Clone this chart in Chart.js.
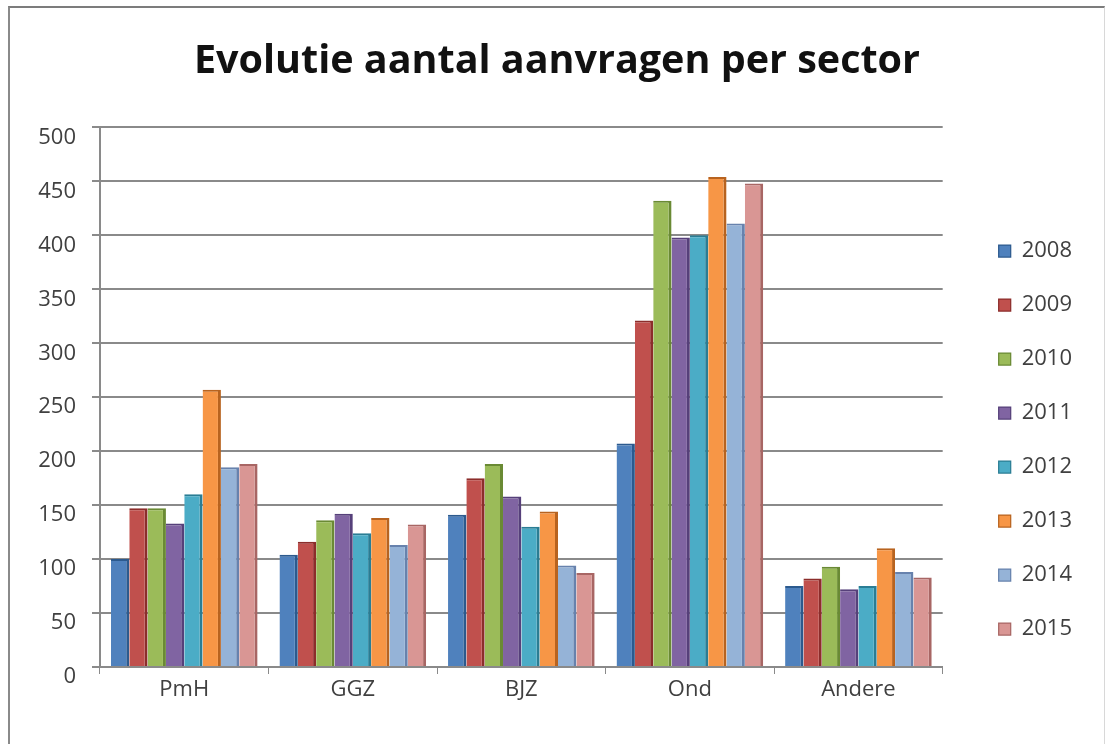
<!DOCTYPE html>
<html lang="nl">
<head>
<meta charset="UTF-8">
<title>Evolutie aantal aanvragen per sector</title>
<script src="https://cdn.jsdelivr.net/npm/chart.js"></script>
<style>
  html, body { margin: 0; padding: 0; background: #fff; }
  .frame {
    position: absolute; left: 8px; top: 6px; width: 1094px; height: 745px;
    border-top: 2px solid #7c7c7c; border-left: 2px solid #8a8a8a; border-right: 1px solid #d8d8d8;
  }
  .wrap { position: absolute; left: 0; top: 0; width: 1106px; height: 744px; }
</style>
</head>
<body>
<div class="frame"></div>
<div class="wrap"><canvas id="chart" width="1106" height="744"></canvas></div>
<script>
// data
var sectoren = ['PmH', 'GGZ', 'BJZ', 'Ond', 'Andere'];
var jaren = ['2008', '2009', '2010', '2011', '2012', '2013', '2014', '2015'];
var v2008 = [100, 104, 141, 207, 75];
var v2009 = [147, 116, 175, 321, 82];
var v2010 = [147, 136, 188, 432, 93];
var v2011 = [133, 142, 158, 398, 72];
var v2012 = [160, 124, 130, 400, 75];
var v2013 = [257, 138, 144, 454, 110];
var v2014 = [185, 113, 94, 411, 88];
var v2015 = [188, 132, 87, 448, 83];
var reeksen = [v2008, v2009, v2010, v2011, v2012, v2013, v2014, v2015];

var kleuren = ['#4f81bd', '#c0504d', '#9bbb59', '#8064a2', '#4bacc6', '#f79646', '#95b3d7', '#d99694'];
var randen = ['#2c5a8e', '#8c2d2b', '#6a8a34', '#56407a', '#2a7d94', '#b8631f', '#6782ad', '#a86664'];

var datasets = jaren.map(function (jaar, i) {
  return {
    label: jaar,
    data: reeksen[i],
    backgroundColor: kleuren[i],
    borderColor: randen[i],
    borderWidth: { top: 2, right: 3, left: 0, bottom: 0 },
    borderSkipped: false
  };
});

var labelFont = { family: "'Open Sans', sans-serif", size: 22 };

new Chart(document.getElementById('chart'), {
  type: 'bar',
  data: { labels: sectoren, datasets: datasets },
  options: {
    responsive: false,
    animation: false,
    layout: { padding: { left: 32, right: 24, top: 0, bottom: 0 } },
    datasets: { bar: { categoryPercentage: 0.87, barPercentage: 1 } },
    plugins: {
      title: {
        display: true,
        text: 'Evolutie aantal aanvragen per sector',
        color: '#111',
        font: { family: "'Open Sans', sans-serif", size: 39.5, weight: 'bold' },
        padding: { top: 38, bottom: 42 }
      },
      legend: {
        position: 'right',
        align: 'start',
        // lege titel om de legenda omlaag te schuiven
        title: { display: true, text: ' ', font: { size: 10 }, padding: { top: 0, bottom: 196 } },
        labels: {
          color: '#404040',
          font: labelFont,
          boxWidth: 12,
          boxHeight: 12,
          padding: 32
        }
      },
      tooltip: { enabled: false }
    },
    scales: {
      x: {
        grid: { drawOnChartArea: false, drawTicks: true, tickLength: 7, color: '#8a8a8a', lineWidth: 1 },
        border: { color: '#8a8a8a', width: 2 },
        ticks: { color: '#404040', font: labelFont, padding: 3 },
        afterFit: function (s) { s.height = 77; }
      },
      y: {
        min: 0,
        max: 500,
        grid: { color: '#8a8a8a', lineWidth: 2, tickLength: 8 },
        border: { color: '#8a8a8a', width: 2 },
        ticks: { stepSize: 50, color: '#404040', font: labelFont, padding: 16, labelOffset: 10 },
        afterFit: function (s) { s.width = 68; }
      },
      rechts: {
        type: 'linear',
        position: 'right',
        grid: { drawOnChartArea: false, drawTicks: false },
        border: { display: false },
        ticks: { display: false },
        afterFit: function (s) { s.width = 24; }
      }
    }
  }
});
</script>
</body>
</html>
